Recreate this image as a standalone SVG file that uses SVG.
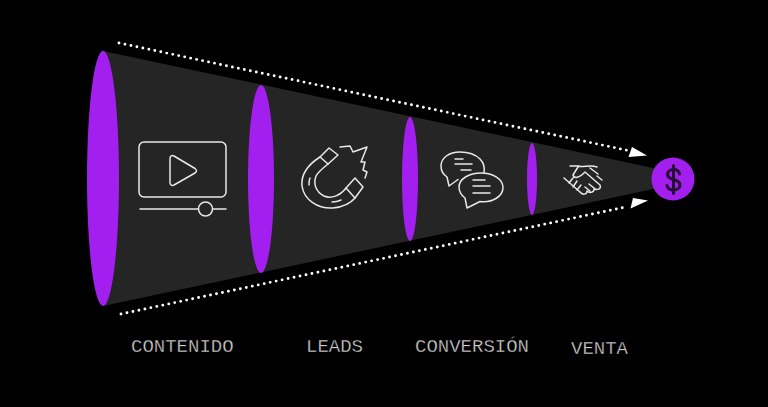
<svg xmlns="http://www.w3.org/2000/svg" width="768" height="407" viewBox="0 0 768 407">
<style>
.p{fill:#a31ff0}
.i{fill:none;stroke:#e8e8e8;stroke-width:1.5;stroke-linecap:round;stroke-linejoin:round}
.t{font-family:"Liberation Mono",monospace;font-size:19px;fill:#d0d0d0;stroke:#000;stroke-width:.35px}
.d{fill:none;stroke:#fff;stroke-width:2.9;stroke-linecap:round;stroke-dasharray:0 6.100}
</style>
<rect width="768" height="407" fill="#000"/>
<g id="funnel"><polygon points="103,51 672,172 672,185 103,306" fill="#252525"/></g>
<g id="stage-contenido">
<ellipse class="p" cx="103" cy="178.500" rx="16" ry="127.500"/>
<rect class="i" x="139" y="142" width="87" height="55" rx="5"/>
<path class="i" d="M170 158.500c0-2.500 2-3.500 4-2.500l21 12.500c2 1.500 2 3 0 4.500l-21 12c-2 1-4 0-4-2.500z"/>
<path class="i" d="M140 209H198M213 209H226"/><circle class="i" cx="205.500" cy="209" r="7"/>
<text class="t" x="131" y="352">CONTENIDO</text>
</g>
<g id="stage-leads">
<ellipse class="p" cx="261" cy="179" rx="13" ry="94"/>
<path class="i" d="M320 157C306 166 301 176 302 186C304 200 318 209 333 208C343 207 350 204 355 198L363 187L355 178L346 188C340 196 331 199 324 196C316 192 313 184 316 176C318 172 323 168 328 164L338 155L329 148Z"/>
<path class="i" d="M320 157L328 164M346 188L355 198M310 178C309 180 309 183 309 185M332 202C335 202 339 201 341 200"/>
<path class="i" d="M340 147L350 146L353 152L367 147L361 162L365 162L363 170L367 172L365 178"/>
<text class="t" x="306" y="352">LEADS</text>
</g>
<g id="stage-conversion">
<ellipse class="p" cx="410" cy="179" rx="8" ry="62"/>
<path class="i" d="M484 173C485 167 484 163 480 159C475 154 467 152 460 152C449 152 441 158 441 166C441 171 444 175 447 177L449 186L458 179.500"/>
<path class="i" d="M481 173C493 173 503 179 503 187.500C503 196 493 203 480 201.500L467 208L465 198C461 195 459 191 459 187C459 179 469 173 481 173Z"/>
<path class="i" d="M455 159H463M455 164H472M461 170H471M473 180H485M473 186H490M473 193H490"/>
<text class="t" x="415" y="352">CONVERSIÓN</text>
</g>
<g id="stage-venta">
<ellipse class="p" cx="532" cy="179" rx="5" ry="36"/>
<path class="i" d="M570 166H578C583 168 590 164 597 167M578 167L573 175C574 179 579 178 585 172L600 185C602 189 596 191 594 188C595 192 590 194 587 191C587 195 582 195 580 192L564 178M602 180L597 176M590 168L598 174M569 183L573 178M573 187L577 181M577 190L581 185M590 191L585 187M594 188L589 184"/>
<text class="t" x="571" y="354">VENTA</text>
</g>
<g id="stage-sale">
<circle class="p" cx="673" cy="179" r="21.500"/>
<path d="M679.500 174C679 171 676.500 169.500 673.500 169.500C670 169.500 667.500 171.500 667.500 174.500C667.500 177.500 670 178.500 673.500 179.500C677 180.500 680 182 680 185C680 188 677 190 673.500 190C670 190 667.500 188.500 667 185.500M673.500 165.500V193.500" fill="none" stroke="#241033" stroke-width="3" stroke-linecap="round"/>
</g>
<g id="connectors">
<path class="d" d="M119 43L628 150.500"/>
<polygon points="647,155.500 632,147 628.500,157" fill="#fff"/>
<path class="d" d="M121 314L628 206.500"/>
<polygon points="648,200.500 633,198 630.500,208.500" fill="#fff"/>
</g>
</svg>
